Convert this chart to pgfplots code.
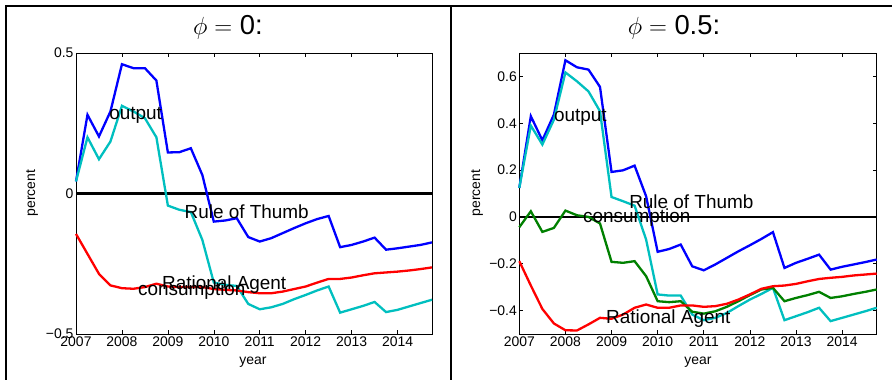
\documentclass[border=0pt]{standalone}
\usepackage{pgfplots}
\pgfplotsset{compat=1.18}
\usepackage{fontspec}
\setmainfont{Liberation Sans}
\definecolor{mblue}{rgb}{0,0,1}
\definecolor{mcyan}{rgb}{0,0.75,0.75}
\definecolor{mgreen}{rgb}{0,0.5,0}
\definecolor{mred}{rgb}{1,0,0}
\tikzset{anntext/.style={font=\fontsize{19}{22}\selectfont, anchor=base west, inner sep=0pt}}
\pgfplotsset{
  mystyle/.style={
    scale only axis, height=281bp,
    xmin=2007, xmax=2014.75,
    xtick={2007,2008,2009,2010,2011,2012,2013,2014},
    xticklabels={2007,2008,2009,2010,2011,2012,2013,2014},
    tick align=inside, tick pos=both,
    major tick length=4bp,
    axis line style={line width=0.9bp},
    every tick/.style={black, line width=0.6bp},
    ticklabel style={font=\fontsize{14}{16}\selectfont},
    xticklabel style={yshift=1bp},
    yticklabel style={xshift=1bp},
    every axis plot/.append style={line width=2.3bp, no marks},
    clip=false,
  }
}
\begin{document}
\begin{tikzpicture}
\useasboundingbox (0bp,0bp) rectangle (892bp,380bp);
\draw[line width=2.2bp] (6bp,-5bp) -- (6bp,374bp) -- (895bp,374bp);
\draw[line width=2.2bp] (451bp,-5bp) -- (451bp,374bp);
% titles
\node[font=\fontsize{27.5}{30}\selectfont] at (228bp,353bp) {$\phi=$ 0:};
\node[font=\fontsize{27.5}{30}\selectfont] at (674bp,353bp) {$\phi=$ 0.5:};
% axis labels
\node[font=\fontsize{14}{16}\selectfont, rotate=90] at (32bp,187bp) {percent};
\node[font=\fontsize{14}{16}\selectfont, rotate=90] at (477bp,187bp) {percent};
\node[font=\fontsize{14}{16}\selectfont] at (253bp,18bp) {year};
\node[font=\fontsize{14}{16}\selectfont] at (698bp,18bp) {year};

\begin{axis}[mystyle, at={(76bp,46bp)}, anchor=south west, width=356bp,
  ymin=-0.5, ymax=0.5, ytick={-0.5,0,0.5}, yticklabels={−0.5,0,0.5}]
\addplot[black, line width=2.3bp] coordinates {(2007,0) (2014.75,0)};
\addplot[mblue] coordinates {
(2007.00,0.043) (2007.25,0.280) (2007.50,0.203) (2007.75,0.292)
(2008.00,0.460) (2008.25,0.446) (2008.50,0.446) (2008.75,0.402)
(2009.00,0.146) (2009.25,0.147) (2009.50,0.161) (2009.75,0.066)
(2010.00,-0.100) (2010.25,-0.096) (2010.50,-0.088) (2010.75,-0.155)
(2011.00,-0.171) (2011.25,-0.159) (2011.50,-0.141) (2011.75,-0.123)
(2012.00,-0.106) (2012.25,-0.091) (2012.50,-0.080) (2012.75,-0.191)
(2013.00,-0.183) (2013.25,-0.171) (2013.50,-0.157) (2013.75,-0.200)
(2014.00,-0.195) (2014.25,-0.189) (2014.50,-0.183) (2014.75,-0.174)};
\addplot[mcyan] coordinates {
(2007.00,0.043) (2007.25,0.200) (2007.50,0.122) (2007.75,0.185)
(2008.00,0.312) (2008.25,0.292) (2008.50,0.268) (2008.75,0.200)
(2009.00,-0.043) (2009.25,-0.058) (2009.50,-0.066) (2009.75,-0.165)
(2010.00,-0.317) (2010.25,-0.325) (2010.50,-0.329) (2010.75,-0.393)
(2011.00,-0.412) (2011.25,-0.405) (2011.50,-0.393) (2011.75,-0.376)
(2012.00,-0.361) (2012.25,-0.345) (2012.50,-0.331) (2012.75,-0.424)
(2013.00,-0.412) (2013.25,-0.400) (2013.50,-0.386) (2013.75,-0.422)
(2014.00,-0.414) (2014.25,-0.402) (2014.50,-0.390) (2014.75,-0.378)};
\addplot[mred] coordinates {
(2007.00,-0.144) (2007.25,-0.215) (2007.50,-0.286) (2007.75,-0.327)
(2008.00,-0.337) (2008.25,-0.339) (2008.50,-0.333) (2008.75,-0.321)
(2009.00,-0.331) (2009.25,-0.333) (2009.50,-0.333) (2009.75,-0.333)
(2010.00,-0.340) (2010.25,-0.343) (2010.50,-0.345) (2010.75,-0.351)
(2011.00,-0.355) (2011.25,-0.355) (2011.50,-0.349) (2011.75,-0.340)
(2012.00,-0.331) (2012.25,-0.317) (2012.50,-0.304) (2012.75,-0.304)
(2013.00,-0.299) (2013.25,-0.291) (2013.50,-0.284) (2013.75,-0.281)
(2014.00,-0.278) (2014.25,-0.274) (2014.50,-0.269) (2014.75,-0.263)};
\node[anntext] at (axis cs:2007.72,0.265) {output};
\node[anntext] at (axis cs:2009.36,-0.088) {Rule of Thumb};
\node[anntext] at (axis cs:2008.87,-0.343) {Rational Agent};
\node[anntext] at (axis cs:2008.35,-0.364) {consumption};
\end{axis}

\begin{axis}[mystyle, at={(519.3bp,46bp)}, anchor=south west, width=357.4bp,
  ymin=-0.5, ymax=0.7, ytick={-0.4,-0.2,0,0.2,0.4,0.6},
  yticklabels={−0.4,−0.2,0,0.2,0.4,0.6}]
\addplot[black, line width=2.3bp] coordinates {(2007,0) (2014.75,0)};
\addplot[mblue] coordinates {
(2007.00,0.124) (2007.25,0.430) (2007.50,0.327) (2007.75,0.437)
(2008.00,0.669) (2008.25,0.639) (2008.50,0.629) (2008.75,0.555)
(2009.00,0.192) (2009.25,0.199) (2009.50,0.219) (2009.75,0.088)
(2010.00,-0.149) (2010.25,-0.137) (2010.50,-0.118) (2010.75,-0.211)
(2011.00,-0.228) (2011.25,-0.203) (2011.50,-0.175) (2011.75,-0.147)
(2012.00,-0.121) (2012.25,-0.094) (2012.50,-0.065) (2012.75,-0.218)
(2013.00,-0.196) (2013.25,-0.179) (2013.50,-0.161) (2013.75,-0.225)
(2014.00,-0.213) (2014.25,-0.203) (2014.50,-0.193) (2014.75,-0.182)};
\addplot[mcyan] coordinates {
(2007.00,0.124) (2007.25,0.390) (2007.50,0.309) (2007.75,0.415)
(2008.00,0.617) (2008.25,0.579) (2008.50,0.536) (2008.75,0.451)
(2009.00,0.085) (2009.25,0.067) (2009.50,0.048) (2009.75,-0.097)
(2010.00,-0.331) (2010.25,-0.336) (2010.50,-0.336) (2010.75,-0.417)
(2011.00,-0.441) (2011.25,-0.431) (2011.50,-0.410) (2011.75,-0.381)
(2012.00,-0.353) (2012.25,-0.329) (2012.50,-0.303) (2012.75,-0.441)
(2013.00,-0.424) (2013.25,-0.407) (2013.50,-0.388) (2013.75,-0.445)
(2014.00,-0.431) (2014.25,-0.417) (2014.50,-0.403) (2014.75,-0.388)};
\addplot[mgreen] coordinates {
(2007.00,-0.044) (2007.25,0.024) (2007.50,-0.064) (2007.75,-0.047)
(2008.00,0.027) (2008.25,0.007) (2008.50,0.000) (2008.75,-0.028)
(2009.00,-0.192) (2009.25,-0.196) (2009.50,-0.189) (2009.75,-0.253)
(2010.00,-0.360) (2010.25,-0.364) (2010.50,-0.360) (2010.75,-0.405)
(2011.00,-0.413) (2011.25,-0.403) (2011.50,-0.384) (2011.75,-0.360)
(2012.00,-0.334) (2012.25,-0.310) (2012.50,-0.303) (2012.75,-0.360)
(2013.00,-0.346) (2013.25,-0.334) (2013.50,-0.320) (2013.75,-0.346)
(2014.00,-0.339) (2014.25,-0.329) (2014.50,-0.320) (2014.75,-0.310)};
\addplot[mred] coordinates {
(2007.00,-0.189) (2007.25,-0.293) (2007.50,-0.393) (2007.75,-0.455)
(2008.00,-0.484) (2008.25,-0.485) (2008.50,-0.459) (2008.75,-0.431)
(2009.00,-0.435) (2009.25,-0.417) (2009.50,-0.388) (2009.75,-0.374)
(2010.00,-0.388) (2010.25,-0.388) (2010.50,-0.378) (2010.75,-0.378)
(2011.00,-0.384) (2011.25,-0.381) (2011.50,-0.371) (2011.75,-0.353)
(2012.00,-0.331) (2012.25,-0.307) (2012.50,-0.296) (2012.75,-0.293)
(2013.00,-0.286) (2013.25,-0.275) (2013.50,-0.265) (2013.75,-0.260)
(2014.00,-0.256) (2014.25,-0.250) (2014.50,-0.246) (2014.75,-0.242)};
\node[anntext] at (axis cs:2007.75,0.409) {output};
\node[anntext] at (axis cs:2009.38,0.034) {Rule of Thumb};
\node[anntext] at (axis cs:2008.38,-0.023) {consumption};
\node[anntext] at (axis cs:2008.88,-0.456) {Rational Agent};
\end{axis}
\end{tikzpicture}
\end{document}
